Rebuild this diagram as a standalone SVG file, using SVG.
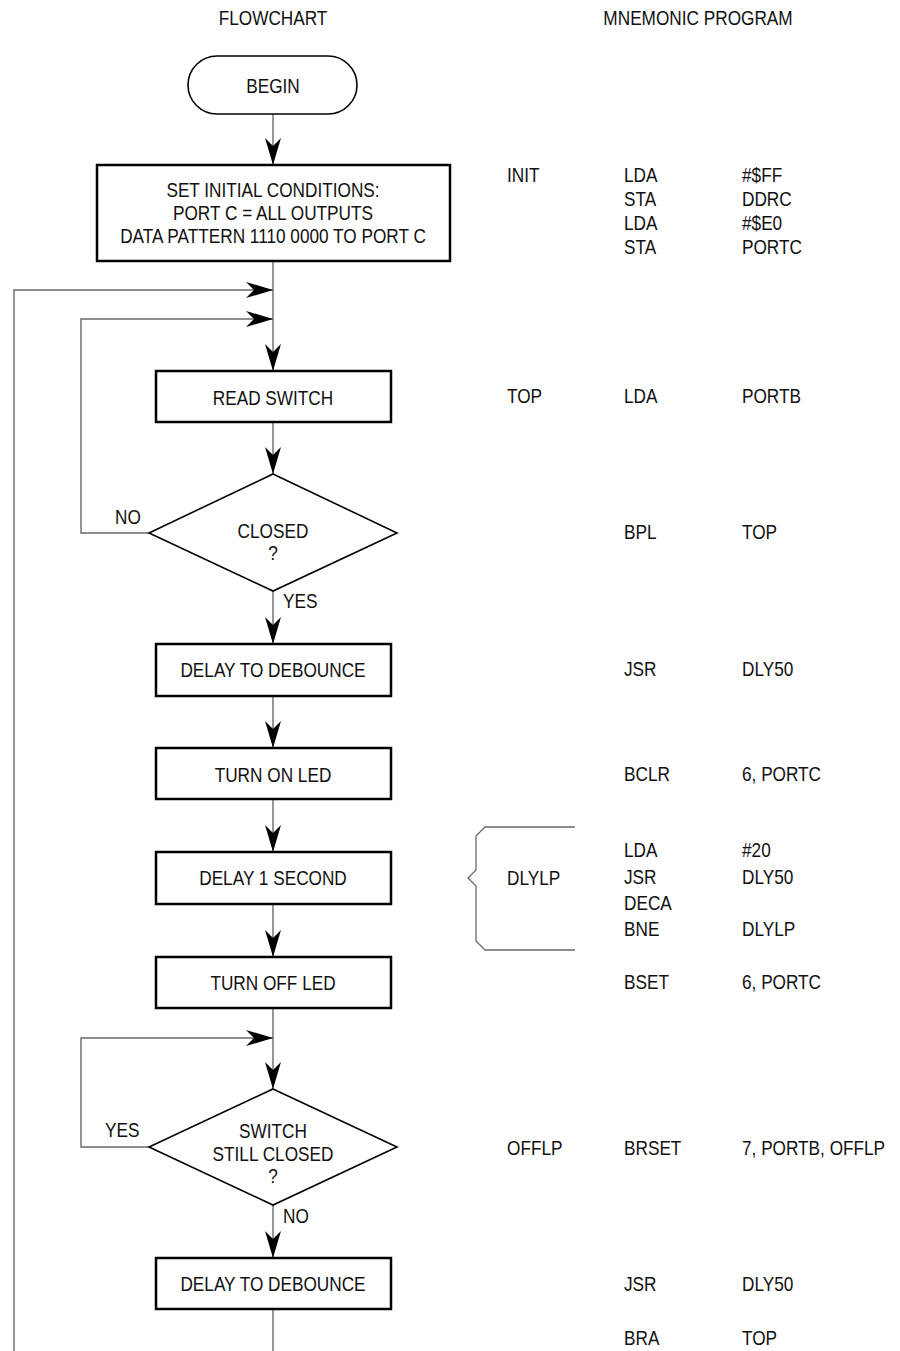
<svg xmlns="http://www.w3.org/2000/svg" width="900" height="1351" viewBox="0 0 900 1351">
<style>
text{font-family:"Liberation Sans",Arial,sans-serif;font-size:21px;fill:#111}
.c{text-anchor:middle}
.box{fill:#fff;stroke:#000;stroke-width:2.5}
.shape{fill:#fff;stroke:#000;stroke-width:1.6}
.con{fill:none;stroke:#6a6a6a;stroke-width:1.4}
.con.a{marker-end:url(#arr)}
</style>
<defs>
<marker id="arr" viewBox="-28 -9 29 18" refX="0" refY="0" markerWidth="29" markerHeight="18" markerUnits="userSpaceOnUse" orient="auto">
<path d="M0,0 L-27,-8 L-19,0 L-27,8 Z" fill="#000"/>
</marker>
</defs>
<rect width="900" height="1351" fill="#fff"/>
<g id="headers">
<text class="c" transform="matrix(.82 0 0 1 273 25)">FLOWCHART</text>
<text class="c" transform="matrix(.82 0 0 1 698 25)">MNEMONIC PROGRAM</text>
</g>
<g id="connectors">
<line class="con a" x1="273" y1="114" x2="273" y2="165"/>
<line class="con a" x1="273" y1="261" x2="273" y2="371"/>
<polyline class="con a" points="14,1351 14,290 273,290"/>
<polyline class="con a" points="149,533 81,533 81,319 273,319"/>
<line class="con a" x1="273" y1="422" x2="273" y2="474"/>
<line class="con a" x1="273" y1="591" x2="273" y2="644"/>
<line class="con a" x1="273" y1="696" x2="273" y2="748"/>
<line class="con a" x1="273" y1="799" x2="273" y2="852"/>
<line class="con a" x1="273" y1="904" x2="273" y2="957"/>
<line class="con a" x1="273" y1="1008" x2="273" y2="1089"/>
<polyline class="con a" points="149,1147 81,1147 81,1038 273,1038"/>
<line class="con a" x1="273" y1="1205" x2="273" y2="1258"/>
<line class="con" x1="273" y1="1309" x2="273" y2="1351"/>
<text transform="matrix(.82 0 0 1 115 524)">NO</text>
<text transform="matrix(.82 0 0 1 283 608)">YES</text>
<text transform="matrix(.82 0 0 1 105 1137)">YES</text>
<text transform="matrix(.82 0 0 1 283 1223)">NO</text>
</g>
<g id="begin">
<rect class="shape" x="188" y="56" width="169" height="58" rx="29" ry="29"/>
<text class="c" transform="matrix(.82 0 0 1 273 93)">BEGIN</text>
</g>
<g id="init">
<rect class="box" x="97" y="165" width="353" height="96"/>
<text class="c" transform="matrix(.82 0 0 1 273 197)">SET INITIAL CONDITIONS:</text>
<text class="c" transform="matrix(.82 0 0 1 273 220)">PORT C = ALL OUTPUTS</text>
<text class="c" transform="matrix(.82 0 0 1 273 243)">DATA PATTERN 1110 0000 TO PORT C</text>
</g>
<g id="read-switch">
<rect class="box" x="156" y="371" width="235" height="51"/>
<text class="c" transform="matrix(.82 0 0 1 273 405)">READ SWITCH</text>
</g>
<g id="closed">
<polygon class="shape" points="273,474 397,533 273,591 149,533"/>
<text class="c" transform="matrix(.82 0 0 1 273 538)">CLOSED</text>
<text class="c" transform="matrix(.82 0 0 1 273 560)">?</text>
</g>
<g id="debounce1">
<rect class="box" x="156" y="644" width="235" height="52"/>
<text class="c" transform="matrix(.82 0 0 1 273 677)">DELAY TO DEBOUNCE</text>
</g>
<g id="led-on">
<rect class="box" x="156" y="748" width="235" height="51"/>
<text class="c" transform="matrix(.82 0 0 1 273 782)">TURN ON LED</text>
</g>
<g id="delay1s">
<rect class="box" x="156" y="852" width="235" height="52"/>
<text class="c" transform="matrix(.82 0 0 1 273 885)">DELAY 1 SECOND</text>
</g>
<g id="led-off">
<rect class="box" x="156" y="957" width="235" height="51"/>
<text class="c" transform="matrix(.82 0 0 1 273 990)">TURN OFF LED</text>
</g>
<g id="still-closed">
<polygon class="shape" points="273,1089 397,1147 273,1205 149,1147"/>
<text class="c" transform="matrix(.82 0 0 1 273 1138)">SWITCH</text>
<text class="c" transform="matrix(.82 0 0 1 273 1161)">STILL CLOSED</text>
<text class="c" transform="matrix(.82 0 0 1 273 1183)">?</text>
</g>
<g id="debounce2">
<rect class="box" x="156" y="1258" width="235" height="51"/>
<text class="c" transform="matrix(.82 0 0 1 273 1291)">DELAY TO DEBOUNCE</text>
</g>
<g id="program">
<text transform="matrix(.82 0 0 1 507 182)">INIT</text>
<text transform="matrix(.82 0 0 1 624 182)">LDA</text><text transform="matrix(.82 0 0 1 742 182)">#$FF</text>
<text transform="matrix(.82 0 0 1 624 206)">STA</text><text transform="matrix(.82 0 0 1 742 206)">DDRC</text>
<text transform="matrix(.82 0 0 1 624 230)">LDA</text><text transform="matrix(.82 0 0 1 742 230)">#$E0</text>
<text transform="matrix(.82 0 0 1 624 254)">STA</text><text transform="matrix(.82 0 0 1 742 254)">PORTC</text>
<text transform="matrix(.82 0 0 1 507 403)">TOP</text>
<text transform="matrix(.82 0 0 1 624 403)">LDA</text><text transform="matrix(.82 0 0 1 742 403)">PORTB</text>
<text transform="matrix(.82 0 0 1 624 539)">BPL</text><text transform="matrix(.82 0 0 1 742 539)">TOP</text>
<text transform="matrix(.82 0 0 1 624 676)">JSR</text><text transform="matrix(.82 0 0 1 742 676)">DLY50</text>
<text transform="matrix(.82 0 0 1 624 781)">BCLR</text><text transform="matrix(.82 0 0 1 742 781)">6, PORTC</text>
<path d="M575,827 H485 L476,836 V870 L468,878 L476,886 V941 L485,950 H575" fill="none" stroke="#6a6a6a" stroke-width="1.3"/>
<text transform="matrix(.82 0 0 1 507 885)">DLYLP</text>
<text transform="matrix(.82 0 0 1 624 857)">LDA</text><text transform="matrix(.82 0 0 1 742 857)">#20</text>
<text transform="matrix(.82 0 0 1 624 884)">JSR</text><text transform="matrix(.82 0 0 1 742 884)">DLY50</text>
<text transform="matrix(.82 0 0 1 624 910)">DECA</text>
<text transform="matrix(.82 0 0 1 624 936)">BNE</text><text transform="matrix(.82 0 0 1 742 936)">DLYLP</text>
<text transform="matrix(.82 0 0 1 624 989)">BSET</text><text transform="matrix(.82 0 0 1 742 989)">6, PORTC</text>
<text transform="matrix(.82 0 0 1 507 1155)">OFFLP</text>
<text transform="matrix(.82 0 0 1 624 1155)">BRSET</text><text transform="matrix(.82 0 0 1 742 1155)">7, PORTB, OFFLP</text>
<text transform="matrix(.82 0 0 1 624 1291)">JSR</text><text transform="matrix(.82 0 0 1 742 1291)">DLY50</text>
<text transform="matrix(.82 0 0 1 624 1345)">BRA</text><text transform="matrix(.82 0 0 1 742 1345)">TOP</text>
</g>
</svg>
